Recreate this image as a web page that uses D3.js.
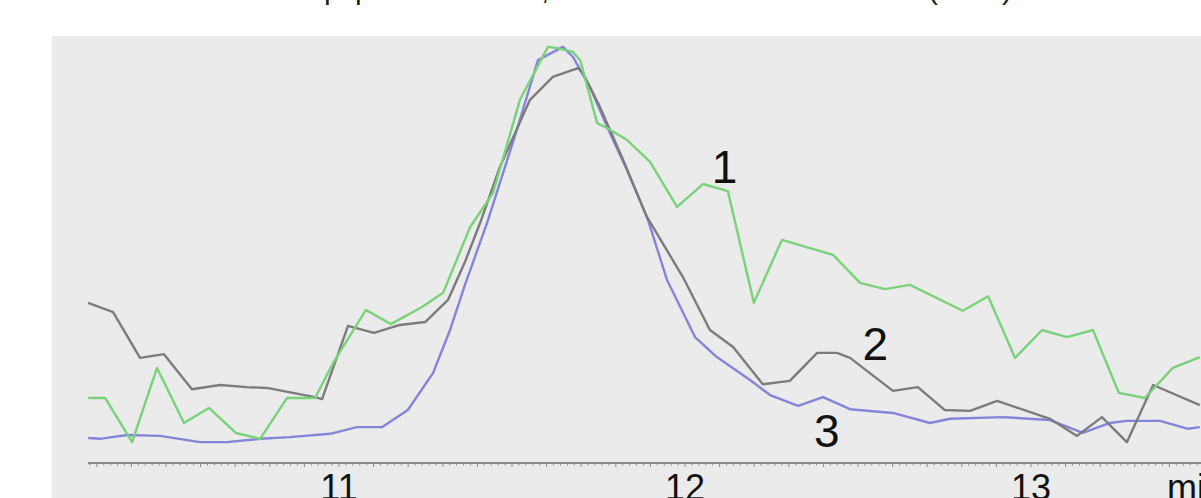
<!DOCTYPE html>
<html>
<head>
<meta charset="utf-8">
<script src="https://cdn.jsdelivr.net/npm/d3@7"></script>
<style>
  html, body { margin: 0; padding: 0; background: #ffffff; }
  svg { display: block; }
  text { font-family: "Liberation Sans", Arial, sans-serif; }
</style>
</head>
<body>
<svg id="chart" width="1201" height="498"></svg>
<script>
// Elution time (min) and relative detector signal for each trace
const trace1Time = [10.275,10.324,10.402,10.474,10.552,10.624,10.702,10.772,10.850,10.931,10.983,11.078,11.150,11.240,11.301,11.379,11.445,11.523,11.558,11.604,11.630,11.676,11.697,11.746,11.775,11.832,11.899,11.977,12.052,12.124,12.199,12.280,12.428,12.506,12.578,12.650,12.803,12.876,12.954,13.032,13.104,13.179,13.254,13.329,13.410,13.488];
const trace1Value = [15.6,15.6,5.0,22.8,9.6,13.2,7.2,5.8,15.6,15.6,24.0,36.7,33.3,37.4,40.8,56.6,64.7,87.1,92.6,99.8,99.5,98.6,96.6,81.5,80.3,77.5,72.2,61.4,66.9,65.2,38.4,53.5,49.9,43.2,41.7,42.7,36.5,40.0,25.2,31.9,30.2,31.9,16.8,15.6,22.8,25.4];

const trace2Time = [10.275,10.347,10.425,10.494,10.575,10.656,10.734,10.792,10.867,10.931,10.951,11.026,11.101,11.176,11.249,11.315,11.364,11.408,11.465,11.552,11.618,11.691,11.705,11.754,11.821,11.890,11.994,12.072,12.139,12.225,12.303,12.382,12.439,12.477,12.601,12.673,12.751,12.824,12.902,13.055,13.133,13.205,13.277,13.353,13.488];
const trace2Value = [38.4,36.2,25.2,26.1,17.7,18.7,18.2,18.0,16.8,15.8,15.3,32.9,31.2,33.1,33.8,39.1,48.2,57.6,71.0,87.1,92.6,94.7,93.5,85.4,72.7,59.0,44.6,31.9,27.8,18.9,19.7,26.4,26.4,25.2,17.3,18.2,12.7,12.5,14.9,10.6,6.5,11.0,5.0,18.7,13.9];

const trace3Time = [10.275,10.309,10.387,10.483,10.598,10.676,10.772,10.858,10.974,11.052,11.124,11.199,11.272,11.321,11.364,11.428,11.514,11.575,11.647,11.676,11.725,11.775,11.832,11.893,11.948,12.029,12.092,12.188,12.246,12.327,12.399,12.477,12.601,12.708,12.766,12.919,13.055,13.150,13.228,13.277,13.373,13.454,13.488];
const trace3Value = [6.0,5.8,6.7,6.5,5.0,5.0,5.8,6.2,7.0,8.6,8.6,12.7,21.6,31.9,42.7,57.6,79.9,96.6,99.8,97.4,90.2,80.6,70.3,58.3,43.9,30.2,25.4,19.9,16.3,13.7,15.8,12.9,12.0,9.6,10.6,11.0,10.3,7.2,9.6,10.1,10.1,8.2,8.6];

const traceNames = ["1", "2", "3"];
const majorTicks = [11, 12, 13];
const axisUnit = "min";

const svg = d3.select("#chart");
const W = 1201, H = 498;

// plot panel
svg.append("rect")
  .attr("x", 52).attr("y", 36)
  .attr("width", W - 52).attr("height", H - 36)
  .attr("fill", "#ebebeb");

// caption line above the panel (only its lower edge falls inside the view)
const cap = svg.append("g").attr("fill", "#222").attr("font-size", 30);
[["p", 324], ["p", 355], [",", 541], ["(", 928], [")", 1002]].forEach(([s, x]) => {
  cap.append("text").attr("x", x).attr("y", -1).text(s);
});

const x = d3.scaleLinear().domain([11, 13]).range([339, 1031]);
const y = d3.scaleLinear().domain([0, 100]).range([463, 46]);
const xMin = x.invert(88), xMax = x.invert(W + 2);

const series = [
  { name: traceNames[0], t: trace1Time, v: trace1Value, color: "#7ad27a" },
  { name: traceNames[1], t: trace2Time, v: trace2Value, color: "#7c7c7c" },
  { name: traceNames[2], t: trace3Time, v: trace3Value, color: "#8484da" }
];

const line = d3.line().x(d => x(d[0])).y(d => y(d[1]));

// draw traces: blue underneath, then grey, then green
[2, 1, 0].forEach(i => {
  const s = series[i];
  svg.append("path")
    .datum(d3.zip(s.t, s.v))
    .attr("d", line)
    .attr("fill", "none")
    .attr("stroke", s.color)
    .attr("stroke-width", 2.4)
    .attr("stroke-linejoin", "round");
});

// time axis with fine ruler ticks
const axisY = 463;
const axisG = svg.append("g");
axisG.append("line")
  .attr("x1", x(xMin)).attr("x2", W)
  .attr("y1", axisY).attr("y2", axisY)
  .attr("stroke", "#8a8a8a").attr("stroke-width", 2);

const fine = d3.range(Math.ceil(xMin / 0.02) * 0.02, xMax, 0.02);
axisG.selectAll("line.tick")
  .data(fine)
  .join("line")
  .attr("class", "tick")
  .attr("x1", d => x(d)).attr("x2", d => x(d))
  .attr("y1", axisY)
  .attr("y2", d => {
    const r = Math.round(d * 100);
    return axisY + (r % 10 === 0 ? 4 : 2.5);
  })
  .attr("stroke", "#8a8a8a").attr("stroke-width", 1);

axisG.selectAll("text.lab")
  .data(majorTicks)
  .join("text")
  .attr("class", "lab")
  .attr("x", d => x(d)).attr("y", 500)
  .attr("text-anchor", "middle")
  .attr("font-size", 36)
  .attr("fill", "#111")
  .text(d => d3.format("d")(d));

axisG.append("text")
  .attr("x", 1167).attr("y", 500)
  .attr("font-size", 36).attr("fill", "#111")
  .text(axisUnit);

// trace labels next to their curves
const labelPos = [
  { t: 12.114, v: 67.2 },
  { t: 12.550, v: 24.7 },
  { t: 12.410, v: 3.8 }
];
svg.selectAll("text.trace")
  .data(series)
  .join("text")
  .attr("class", "trace")
  .attr("x", (d, i) => x(labelPos[i].t))
  .attr("y", (d, i) => y(labelPos[i].v))
  .attr("text-anchor", "middle")
  .attr("font-size", 46)
  .attr("fill", "#111")
  .text(d => d.name);
</script>
</body>
</html>
